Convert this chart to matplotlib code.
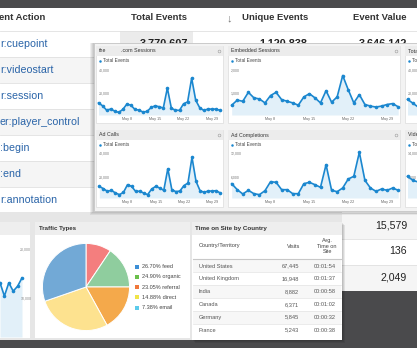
import matplotlib
matplotlib.use('Agg')
import matplotlib.pyplot as plt
from matplotlib.patches import Rectangle
import numpy as np

plt.rcParams['font.family'] = ['Liberation Sans', 'DejaVu Sans']

# ---- values ----
event_actions = ['r:cuepoint', 'r:videostart', 'r:session', 'er:player_control',
                 ':begin', ':end', 'r:annotation']
event_columns = ['Total Events', 'Unique Events', 'Event Value']
first_row_values = ['3,770,607', '1,120,838', '3,646,142']
lower_row_values = ['15,579', '136', '2,049']

# daily "Total Events", May 1 - May 31
com_sessions = [11400, 8900, 5100, 6000, 4300, 3100, 5700, 10300, 9400, 5700, 5100,
                3400, 4000, 7400, 8900, 8000, 6900, 24300, 6600, 5100, 4900, 10600,
                12300, 32900, 13700, 7100, 4900, 6000, 6000, 6000, 4900]
embedded_sessions = [470, 690, 640, 1030, 790, 740, 570, 890, 1030, 710, 640, 570,
                     470, 830, 970, 790, 570, 1100, 600, 830, 1760, 1140, 570, 930,
                     500, 430, 390, 430, 500, 540, 400]
ad_calls = [12200, 10300, 8100, 8900, 6700, 5300, 7200, 13600, 12200, 8100, 8100,
            6700, 5300, 10000, 12200, 10800, 8900, 26900, 9400, 7800, 8300, 12800,
            15000, 36400, 16400, 8600, 7200, 8300, 8300, 8600, 6700]
ad_completions = [4330, 2830, 1750, 2670, 1830, 1580, 2580, 4830, 4670, 2830, 2830,
                  1830, 1830, 4330, 4670, 4080, 3420, 9080, 2670, 2330, 3250, 5500,
                  6170, 12170, 5170, 3250, 2420, 3000, 2670, 3250, 2670]
right_top_visible = [14500, 11000, 7500]
right_bottom_visible = [7200, 6000, 5500]
left_chart_visible = [13100, 10400, 13100, 11400, 12400, 14100]
may_ticks = [8, 15, 22, 29]

# pie slices clockwise from 12 o'clock, as drawn
traffic_shares = [9.4, 15.6, 17.0, 27.7, 30.3]
pie_colors = ['#f47e7e', '#8fcd9e', '#f4a94b', '#fde28f', '#72a9d6']
traffic_legend = ['26.70% feed', '24.90% organic', '23.05% referral', '14.88% direct', '7.38% email']
legend_colors = ['#3d8fd6', '#6abf4b', '#f0783a', '#f0e448', '#5ccbeb']

countries = ['United States', 'United Kingdom', 'India', 'Canada', 'Germany', 'France']
visits = [67445, 16948, 8882, 6371, 5845, 5243]
avg_time = ['00:01:54', '00:01:37', '00:00:58', '00:01:02', '00:00:32', '00:00:38']

W, H = 417, 348
BLUE = '#1b87cf'
FILL = '#e2f0f9'

fig = plt.figure(figsize=(W / 100, H / 100), dpi=100)
fig.patch.set_facecolor('#4a4a4c')


def pix_axes(x0, y0, x1, y1):
    return fig.add_axes([x0 / W, 1 - y1 / H, (x1 - x0) / W, (y1 - y0) / H])


def canvas_axes():
    ax = fig.add_axes([0, 0, 1, 1])
    ax.set_xlim(0, W)
    ax.set_ylim(H, 0)
    ax.axis('off')
    return ax


def box(ax, x0, y0, x1, y1, fc, ec='none', lw=0, alpha=1):
    ax.add_patch(Rectangle((x0, y0), x1 - x0, y1 - y0, facecolor=fc,
                           edgecolor=ec, linewidth=lw, alpha=alpha))


def line_chart(x0, x1, y0, y1, vals, first_px, day_px, ticks, tick_px, right_labels=False):
    ax = pix_axes(x0, y0, x1, y1)
    days = np.arange(1, len(vals) + 1)
    per_px = (ticks[1] - ticks[0]) / (tick_px[0] - tick_px[1])
    ax.set_ylim(ticks[0] - (y1 - tick_px[0]) * per_px, ticks[1] + (tick_px[1] - y0) * per_px)
    ax.set_xlim(1 + (x0 - first_px) / day_px, 1 + (x1 - first_px) / day_px)
    ax.fill_between(days, vals, ax.get_ylim()[0], color=FILL, lw=0)
    ax.plot(days, vals, color=BLUE, lw=1.2, marker='o', ms=2.6, mew=0)
    ax.patch.set_visible(False)
    for s in ax.spines.values():
        s.set_visible(False)
    ax.set_yticks(ticks, [f'{t:,}' for t in ticks])
    if right_labels:
        ax.tick_params(axis='y', left=False, labelleft=False, right=False, labelright=True,
                       pad=-2.6, labelsize=2.5, labelcolor='#888')
        ax.set_xticks([])
        for lab in ax.get_yticklabels():
            lab.set_horizontalalignment('right')
    else:
        ax.tick_params(axis='y', length=0, pad=-2.0, labelsize=2.5, labelcolor='#777')
        for lab in ax.get_yticklabels():
            lab.set_horizontalalignment('left')
        ax.set_xticks(may_ticks, [f'May {d}' for d in may_ticks])
        ax.tick_params(axis='x', length=0, pad=1.3, labelsize=2.7, labelcolor='#666')
    return ax


# ---- main event table ----
base = canvas_axes()
box(base, 0, 8, W, 291, 'white')
for i in range(10):
    y = 31 + 26 * i
    box(base, 0, y, W, y + 26, '#ffffff' if i % 2 == 0 else '#f5f5f5')
    base.plot([0, W], [y, y], color='#e0e0e0', lw=0.6)
box(base, 120, 31, 193, 57, '#ebebeb')

base.text(-1, 18, 'ent Action', fontsize=6.8, weight='bold', va='center', color='#333')
for x, name in zip([187, 308, 407], event_columns):
    base.text(x, 18, name, fontsize=6.8, weight='bold', va='center', ha='right', color='#333')
base.text(229, 18, '\u2193', fontsize=8, va='center', ha='center', color='#777')
for i, name in enumerate(event_actions):
    base.text(0, 44 + 26 * i, name, fontsize=7.7, va='center', color='#2a64a8')
for x, v in zip([188, 307, 407], first_row_values):
    base.text(x, 44, v, fontsize=7.8, weight='bold', va='center', ha='right', color='#222')
for i, v in enumerate(lower_row_values):
    base.text(407, 225 + 26 * i, v, fontsize=7.6, va='center', ha='right', color='#222')

# ---- dashboard underneath ----
dash = canvas_axes()
box(dash, 0, 212, 342, 340, '#e6e6e6')
box(dash, -1, 222, 30, 338, 'white')
box(dash, -1, 222, 30, 235, '#eeeeee')
box(dash, 35, 222, 190, 338, 'white')
box(dash, 35, 222, 190, 235, '#eeeeee')
dash.text(39, 228.5, 'Traffic Types', fontsize=4.4, weight='bold', va='center', color='#333')
for i, (lab, c) in enumerate(zip(traffic_legend, legend_colors)):
    yy = 266.7 + 10.25 * i
    dash.scatter([137.5], [yy], marker='s', s=5, color=c, lw=0)
    dash.text(142, yy, lab, fontsize=4, va='center', color='#444')

for k in range(1, 4):
    box(dash, 192 + k, 222 + k, 342 + k, 340 + k, '#000000', alpha=0.08)
box(dash, 192, 222, 342, 340, 'white')
box(dash, 192, 222, 342, 235, '#eeeeee')
dash.text(195, 228.5, 'Time on Site by Country', fontsize=4.5, weight='bold', va='center', color='#333')
dash.text(199, 246, 'Country/Territory', fontsize=4.1, va='center', color='#444')
dash.text(300, 246, 'Visits', fontsize=4.1, va='center', ha='right', color='#444')
dash.text(327, 246, 'Avg.\nTime on\nSite', fontsize=4.0, va='center', ha='center',
          color='#444', linespacing=1.05)
dash.plot([193, 341], [258.5, 258.5], color='#c8c8c8', lw=0.8)
for i, (c, v, t) in enumerate(zip(countries, visits, avg_time)):
    y = 259.6 + 12.8 * i
    box(dash, 193, y, 341, y + 12.8, '#f7f7f7' if i % 2 == 0 else '#ffffff')
    if i:
        dash.plot([193, 341], [y, y], color='#e3e3e3', lw=0.5)
    dash.text(199, y + 6.4, c, fontsize=4.1, va='center', color='#555')
    dash.text(299, y + 6.4, f'{v:,}', fontsize=4.1, va='center', ha='right', color='#555')
    dash.text(336, y + 6.4, t, fontsize=4.1, va='center', ha='right', color='#555')

pie_ax = pix_axes(42, 243, 130, 331)
pie_ax.pie(traffic_shares, colors=pie_colors, startangle=90, counterclock=False,
           wedgeprops=dict(edgecolor='white', linewidth=0.7))
pie_ax.set_xlim(-1.01, 1.01)
pie_ax.set_ylim(-1.01, 1.01)

line_chart(0, 30, 236, 337, left_chart_visible, 0, 4.4, (10000, 20000), (298, 249),
           right_labels=True)

# ---- floating panel of mini charts ----
ov = canvas_axes()
for k in range(1, 5):
    box(ov, 94 - k, 43, W + 5, 211 + k, '#000000', alpha=0.06)
box(ov, 94, 43, W + 5, 211, '#f3f3f3', ec='#c8c8c8', lw=0.6)

titles = [['.com Sessions', 'Embedded Sessions', 'Total Video Plays'],
          ['Ad Calls', 'Ad Completions', 'Video Views']]
cols = [(96, 223), (228, 400), (405, 575)]
rows = [(46, 123), (130, 207)]
for r, (ya, yb) in enumerate(rows):
    for c, (xa, xb) in enumerate(cols):
        box(ov, xa, ya, xb, yb, 'white', ec='#dcdcdc', lw=0.5)
        box(ov, xa, ya, xb, ya + 10, '#ececec')
        tx = xa + 3 if not (r == 0 and c == 0) else 121
        ov.text(tx, ya + 5, titles[r][c], fontsize=3.8, va='center', color='#333')
        ov.plot([xb - 4], [ya + 5], marker='o', ms=2, mfc='none', mec='#999', mew=0.4)
        ov.plot([xa + 4], [ya + 15], marker='o', ms=1.8, color=BLUE, mew=0)
        ov.text(xa + 7, ya + 15, 'Total Events', fontsize=3.4, va='center', color='#444')
ov.text(99, 51, 'the', fontsize=3.8, va='center', color='#333')

line_chart(96, 223, 64, 115, com_sessions, 98.5, 4.05, (20000, 40000), (93, 70))
line_chart(228, 400, 64, 115, embedded_sessions, 231.7, 5.55, (1000, 2000), (93, 70))
line_chart(405, 575, 64, 115, right_top_visible, 407.5, 5.55, (20000, 40000), (93, 70))
line_chart(96, 223, 148, 198, ad_calls, 99.3, 4.03, (20000, 40000), (177, 153))
line_chart(228, 400, 148, 198, ad_completions, 231.7, 5.55, (6000, 12000), (177, 153))
line_chart(405, 575, 148, 198, right_bottom_visible, 407.5, 5.55, (7000, 14000), (177, 153))

fig.savefig('out.png', dpi=100, facecolor=fig.get_facecolor())
